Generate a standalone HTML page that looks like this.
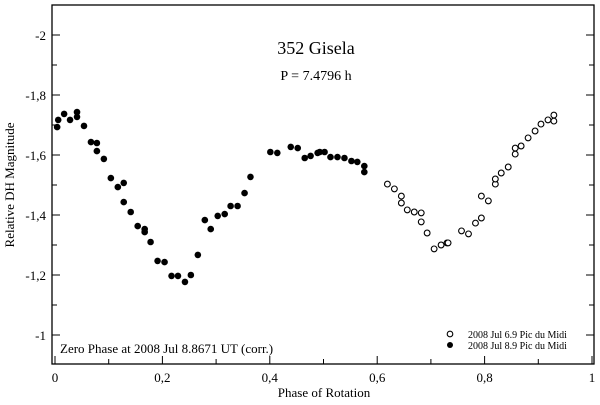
<!DOCTYPE html>
<html><head><meta charset="utf-8"><style>
body{margin:0;background:#fff}
svg text{font-family:"Liberation Serif",serif;fill:#000}
</style></head><body>
<svg id="c" width="600" height="400" xmlns="http://www.w3.org/2000/svg"></svg>
<script>
const phaseFilled=[.004,.006,.017,.028,.041,.041,.054,.067,.078,.078,.091,.104,.117,.128,.128,.141,.154,.167,.167,.178,.191,.204,.217,.229,.242,.253,.266,.279,.290,.303,.316,.327,.340,.353,.364,.401,.414,.439,.452,.465,.476,.489,.493,.502,.513,.526,.539,.552,.563,.576,.576];
const magFilled=[-1.693,-1.717,-1.737,-1.717,-1.743,-1.727,-1.697,-1.643,-1.640,-1.613,-1.587,-1.523,-1.493,-1.507,-1.443,-1.410,-1.363,-1.353,-1.343,-1.310,-1.247,-1.243,-1.197,-1.197,-1.177,-1.200,-1.267,-1.383,-1.353,-1.397,-1.403,-1.430,-1.430,-1.473,-1.527,-1.610,-1.607,-1.627,-1.623,-1.590,-1.597,-1.607,-1.610,-1.610,-1.593,-1.593,-1.590,-1.580,-1.577,-1.563,-1.543];
const phaseOpen=[.619,.632,.645,.645,.656,.669,.682,.682,.693,.706,.719,.730,.732,.757,.770,.783,.794,.794,.807,.820,.820,.831,.844,.857,.857,.868,.881,.894,.905,.918,.929,.929];
const magOpen=[-1.503,-1.487,-1.463,-1.440,-1.417,-1.410,-1.407,-1.377,-1.340,-1.287,-1.300,-1.307,-1.307,-1.347,-1.337,-1.373,-1.390,-1.463,-1.447,-1.503,-1.520,-1.540,-1.560,-1.603,-1.623,-1.630,-1.657,-1.680,-1.703,-1.717,-1.733,-1.713];
const xTicks=[0,0.2,0.4,0.6,0.8,1];
const xTickLabels=["0","0,2","0,4","0,6","0,8","1"];
const yTicks=[-2,-1.8,-1.6,-1.4,-1.2,-1];
const yTickLabels=["-2","-1,8","-1,6","-1,4","-1,2","-1"];

const L=52,R=594,T=5,B=364;
const xs=p=>55+p*537;
const ys=m=>35+(m+2)*300;
const svg=document.getElementById('c');
const NS="http://www.w3.org/2000/svg";
function mk(tag,attrs,txt){const e=document.createElementNS(NS,tag);for(const k in attrs)e.setAttribute(k,attrs[k]);if(txt!==undefined)e.textContent=txt;svg.appendChild(e);return e;}

let fr=mk('rect',{x:L,y:T,width:R-L,height:B-T,fill:'none',stroke:'#000','stroke-width':1.3});



for(let i=0;i<=10;i++){const p=i/10,x=xs(p),len=i%2==0?8:5;
 let t=mk('line',{x1:x,y1:B,x2:x,y2:B-len,stroke:'#000'});
 
 }
xTicks.forEach((v,i)=>{let t=mk('text',{x:xs(v),y:382,'text-anchor':'middle','font-size':13},xTickLabels[i]);
 
 });
for(let i=0;i<=11;i++){const m=-2.1+i*0.1;const y=ys(m);if(y<T||y>B)continue;const len=Math.abs(Math.round(m*10))%2==0?8:5;
 let t=mk('line',{x1:L,y1:y,x2:L+len,y2:y,stroke:'#000'});
 
 
 let t2=mk('line',{x1:R,y1:y,x2:R-len,y2:y,stroke:'#000'});
 
 }
yTicks.forEach((v,i)=>{let t=mk('text',{x:46,y:ys(v)+5,'text-anchor':'end','font-size':13},yTickLabels[i]);
 
 });

let xt=mk('text',{x:324,y:397,'text-anchor':'middle','font-size':13},'Phase of Rotation');


let yt=mk('text',{x:14,y:185,'text-anchor':'middle','font-size':13,transform:'rotate(-90 14 185)'},'Relative DH Magnitude');


let ti=mk('text',{x:316,y:54,'text-anchor':'middle','font-size':18},'352 Gisela');


let pe=mk('text',{x:316,y:80,'text-anchor':'middle','font-size':14},'P = 7.4796 h');


let zp=mk('text',{x:60,y:353,'font-size':13},'Zero Phase at 2008 Jul 8.8671 UT (corr.)');



phaseFilled.forEach((p,i)=>{let c=mk('circle',{cx:xs(p),cy:ys(magFilled[i]),r:3.3,fill:'#000'});
 
 });
phaseOpen.forEach((p,i)=>{let c=mk('circle',{cx:xs(p),cy:ys(magOpen[i]),r:2.9,fill:'#fff',stroke:'#000','stroke-width':1.1});
 
 });

let lc1=mk('circle',{cx:450,cy:334,r:2.8,fill:'#fff',stroke:'#000','stroke-width':1.1});


let lt1=mk('text',{x:468,y:338,'font-size':10},'2008 Jul 6.9 Pic du Midi');


let lc2=mk('circle',{cx:450,cy:345,r:3,fill:'#000'});


let lt2=mk('text',{x:468,y:349,'font-size':10},'2008 Jul 8.9 Pic du Midi');


</script>
</body></html>
